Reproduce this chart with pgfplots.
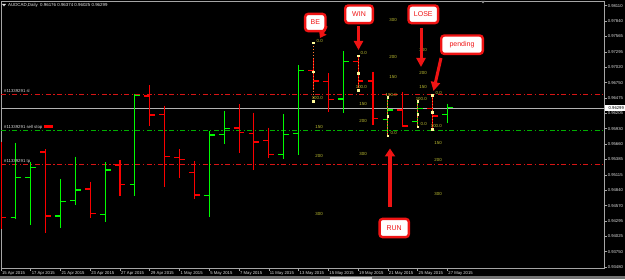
\documentclass[border=0pt]{standalone}
\usepackage{fontspec}
\setmainfont{Liberation Sans}
\usepackage{pgfplots}
\pgfplotsset{compat=1.18}
\usepackage{pgfplotstable}
\usetikzlibrary{arrows.meta}

\definecolor{upc}{RGB}{0,250,0}
\definecolor{dnc}{RGB}{250,0,0}
\definecolor{axgray}{RGB}{165,165,165}
\definecolor{fibtxt}{RGB}{190,190,50}
\definecolor{fibln}{RGB}{255,120,50}
\definecolor{lvlred}{RGB}{215,20,20}
\definecolor{lvlgreen}{RGB}{0,175,0}
\definecolor{boxred}{RGB}{240,20,20}

% OHLC, bullish bars
\pgfplotstableread{
i o h l c
1 0.94354 0.95683 0.94325 0.95063
2 0.95070 0.95346 0.94224 0.95247
4 0.94384 0.95040 0.94166 0.94644
5 0.94655 0.95435 0.94579 0.94845
7 0.94414 0.95335 0.94283 0.95199
9 0.94946 0.96540 0.94744 0.96523
14 0.94751 0.95895 0.94372 0.95819
15 0.95832 0.96244 0.95660 0.95938
19 0.95477 0.96186 0.95389 0.95832
20 0.95842 0.97059 0.95465 0.96965
23 0.96457 0.97307 0.96214 0.97118
26 0.96097 0.96510 0.95807 0.96262
28 0.96062 0.96422 0.95966 0.96292
30 0.96176 0.96374 0.96025 0.96299
}\upbars

% OHLC, bearish bars
\pgfplotstableread{
i o h l c
0 0.95553 0.95700 0.94154 0.94354
3 0.95518 0.95571 0.94088 0.94384
6 0.94862 0.94992 0.94354 0.94432
8 0.95288 0.95376 0.94744 0.94946
10 0.96510 0.96705 0.95984 0.96173
11 0.96186 0.96338 0.94903 0.95435
12 0.95424 0.95566 0.95052 0.95389
13 0.95158 0.95358 0.94680 0.94756
16 0.95943 0.96363 0.95506 0.95867
17 0.95849 0.96214 0.95199 0.95695
18 0.95725 0.95948 0.95406 0.95477
21 0.96965 0.97183 0.96616 0.96776
22 0.96763 0.96912 0.96232 0.96452
24 0.97118 0.97201 0.96652 0.96776
25 0.96776 0.96941 0.95996 0.96115
27 0.96262 0.96586 0.95966 0.95979
29 0.96292 0.96528 0.95925 0.96156
}\dnbars

% Fibonacci level labels
\pgfplotstableread{
x y t
21.64 0.97490 0.0
21.64 0.96469 100.0
21.64 0.95955 150
21.64 0.95447 200
21.64 0.94419 300
24.60 0.97277 0.0
24.60 0.96664 100.0
24.60 0.96363 150
24.60 0.96067 200
24.60 0.95477 300
26.61 0.97857 300
26.61 0.97196 200
26.61 0.96852 150
26.61 0.96522 100.0
26.61 0.95860 0.0
28.63 0.97325 300
28.63 0.96912 200
28.63 0.96664 150
28.63 0.96452 100.0
28.63 0.96014 0.0
29.64 0.96563 0.0
29.64 0.95984 100.0
29.64 0.95683 150
29.64 0.95376 200
29.64 0.94768 300
}\fibolabels

% Fibonacci selection handles
\pgfplotstableread{
x y
21 0.97454
21 0.96938
21 0.96421
24 0.97224
24 0.96918
24 0.96611
26 0.96487
26 0.96147
26 0.95807
28 0.96416
28 0.96191
28 0.95966
29 0.96528
29 0.96224
29 0.95920
}\handles

\begin{document}
\begin{tikzpicture}
\fill[black] (0,0) rectangle (625pt,279pt);
\fill[black!55] (0,0) rectangle (625pt,3pt);
\fill[black!22] (330pt,0) rectangle (372pt,2.5pt);
\begin{axis}[
  at={(1pt,11pt)}, anchor=south west,
  scale only axis, width=603.5pt, height=267pt,
  xmin=0, xmax=40.56, ymin=0.93463, ymax=0.98193,
  axis line style={axgray, line width=0.7pt},
  tick align=outside, major tick length=2.5pt,
  tick style={axgray, line width=0.6pt},
  xtick pos=lower, ytick pos=upper,
  yticklabel pos=right,
  xtick={0,2,...,30},
  xticklabels={15 Apr 2015, 17 Apr 2015, 21 Apr 2015, 23 Apr 2015, 27 Apr 2015, 29 Apr 2015, 1 May 2015, 5 May 2015, 7 May 2015, 11 May 2015, 13 May 2015, 15 May 2015, 19 May 2015, 21 May 2015, 25 May 2015, 27 May 2015},
  xticklabel style={font=\fontsize{4.2}{5}\selectfont, text=white!88!black, anchor=north west, inner sep=0.6pt, xshift=0.3pt},
  ytick={0.93480,0.93752,0.94025,0.94297,0.94569,0.94842,0.95114,0.95386,0.95659,0.95931,0.96204,0.96476,0.96748,0.97021,0.97293,0.97565,0.97838,0.98110},
  yticklabels={0.93480,0.93750,0.94025,0.94295,0.94570,0.94840,0.95115,0.95385,0.95660,0.95930,0.96205,0.96475,0.96750,0.97020,0.97295,0.97565,0.97840,0.98110},
  yticklabel style={font=\fontsize{4.2}{5}\selectfont, text=white!88!black, anchor=west, inner sep=0.6pt},
  clip=true,
]
% order lines
\addplot[lvlred, line width=0.9pt, dash pattern=on 5pt off 2.5pt on 1.2pt off 2.5pt, forget plot] coordinates {(0,0.96540) (41,0.96540)};
\addplot[lvlgreen, line width=0.9pt, dash pattern=on 5pt off 2.5pt on 1.2pt off 2.5pt, forget plot] coordinates {(0,0.95902) (41,0.95902)};
\addplot[lvlred, line width=0.9pt, dash pattern=on 5pt off 2.5pt on 1.2pt off 2.5pt, forget plot] coordinates {(0,0.95300) (41,0.95300)};
% bid line
\addplot[black!30!white, line width=0.7pt, forget plot] coordinates {(0,0.96299) (41,0.96299)};

% bullish bars: high-low line, open tick (left), close tick (right)
\addplot[upc, line width=1.1pt, mark=none, forget plot, quiver={u=0, v=\thisrow{l}-\thisrow{h}}]
  table[x=i, y=h] {\upbars};
\addplot[upc, line width=1.1pt, mark=none, forget plot, quiver={u=0.36, v=0}]
  table[x expr=\thisrow{i}-0.36, y=o] {\upbars};
\addplot[upc, line width=1.1pt, mark=none, forget plot, quiver={u=0.36, v=0}]
  table[x=i, y=c] {\upbars};
% bearish bars
\addplot[dnc, line width=1.1pt, mark=none, forget plot, quiver={u=0, v=\thisrow{l}-\thisrow{h}}]
  table[x=i, y=h] {\dnbars};
\addplot[dnc, line width=1.1pt, mark=none, forget plot, quiver={u=0.36, v=0}]
  table[x expr=\thisrow{i}-0.36, y=o] {\dnbars};
\addplot[dnc, line width=1.1pt, mark=none, forget plot, quiver={u=0.36, v=0}]
  table[x=i, y=c] {\dnbars};

% fibonacci base lines
\addplot[fibln, line width=0.9pt, dash pattern=on 1.5pt off 1.5pt, forget plot] coordinates {(21,0.97454) (21,0.96421)};
\addplot[fibln, line width=0.9pt, dash pattern=on 1.5pt off 1.5pt, forget plot] coordinates {(24,0.97224) (24,0.96611)};
\addplot[fibln, line width=0.9pt, dash pattern=on 1.5pt off 1.5pt, forget plot] coordinates {(26,0.96487) (26,0.95807)};
\addplot[fibln, line width=0.9pt, dash pattern=on 1.5pt off 1.5pt, forget plot] coordinates {(28,0.96416) (28,0.95966)};
\addplot[fibln, line width=0.9pt, dash pattern=on 1.5pt off 1.5pt, forget plot] coordinates {(29,0.96528) (29,0.95920)};
\addplot[only marks, mark=square*, mark size=0.8pt, color=yellow!40!white, forget plot] table[x=x, y=y] {\handles};
% fibonacci labels
\addplot[only marks, mark=none, forget plot, nodes near coords, point meta=explicit symbolic,
  nodes near coords style={anchor=east, inner sep=0pt, font=\fontsize{4.4}{5}\selectfont, text=fibtxt}]
  table[x=x, y=y, meta=t] {\fibolabels};
\end{axis}

% annotations in pixel coordinates (origin top-left)
\begin{scope}[shift={(0,279pt)}, x=1pt, y=-1pt]
  \fill[white!90!black] (2,4) -- (6,4) -- (4,6.3) -- cycle;
  \node[anchor=west, inner sep=0pt, font=\fontsize{4.4}{5}\selectfont, text=white!90!black] at (8,5.2) {AUDCAD,Daily\ \ 0.96176 0.96374 0.96025 0.96299};
  \fill[black!45] (481,1) -- (485,1) -- (483,3.5) -- cycle;
  \node[anchor=west, inner sep=0pt, font=\fontsize{4.3}{5}\selectfont, text=white!85!black] at (4,90.8) {\#11339291 sl};
  \node[anchor=west, inner sep=0pt, font=\fontsize{4.3}{5}\selectfont, text=white!85!black] at (4,127) {\#11339291 sell stop};
  \fill[red] (44.3,125) rectangle (53.3,128.3);
  \node[anchor=west, inner sep=0pt, font=\fontsize{4.3}{5}\selectfont, text=white!85!black] at (4,161) {\#11339291 tp};
  \fill[white] (604.8,105.3) rectangle (625,110.9);
  \node[anchor=west, inner sep=0pt, font=\fontsize{4.2}{5}\selectfont, text=black] at (608.5,108.2) {0.96299};
  \tikzset{callout/.style={draw=boxred, line width=2.4pt, fill=white, rounded corners=3pt, text=boxred, font=\fontsize{7}{7}\selectfont, inner sep=0pt}}
  \node[callout, minimum width=20.3pt, minimum height=17.2pt] at (315.3,22.5) {BE};
  \node[callout, minimum width=27.6pt, minimum height=17.6pt] at (359,14.3) {WIN};
  \node[callout, minimum width=29.6pt, minimum height=17.6pt] at (423.3,14.3) {LOSE};
  \node[callout, minimum width=41.6pt, minimum height=18.3pt] at (462,44.7) {pending};
  \node[callout, minimum width=29.3pt, minimum height=18.2pt] at (394.2,228) {RUN};
  \draw[boxred, line width=2.6pt, -{Triangle[length=6pt, width=8pt]}] (326.5,26) -- (320,38);
  \draw[boxred, line width=3pt, -{Triangle[length=9pt, width=9pt]}] (358.5,26) -- (358.5,50);
  \draw[boxred, line width=3pt, -{Triangle[length=9pt, width=9pt]}] (421,28) -- (421,67);
  \draw[boxred, line width=3pt, -{Triangle[length=9pt, width=9pt]}] (441,58) -- (433.5,91);
  \draw[boxred, line width=3.6pt, -{Triangle[length=8pt, width=10pt]}] (390,207) -- (390,148.5);
\end{scope}
\end{tikzpicture}
\end{document}
